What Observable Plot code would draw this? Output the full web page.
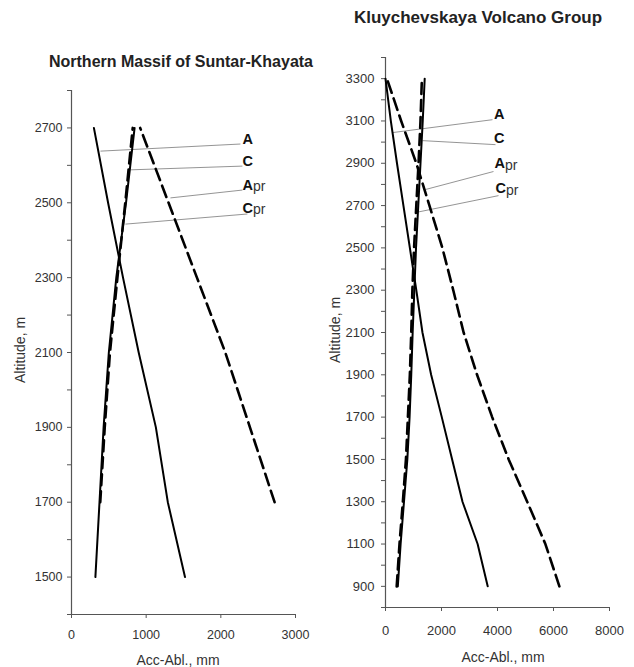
<!DOCTYPE html>
<html>
<head>
<meta charset="utf-8">
<script src="https://cdn.jsdelivr.net/npm/d3@7"></script>
<script src="https://cdn.jsdelivr.net/npm/@observablehq/plot@0.6"></script>
<style>
  html, body { margin: 0; padding: 0; background: white; }
  #root { position: relative; width: 634px; height: 667px; font-family: "Liberation Sans", Arial, sans-serif; overflow: hidden; }
  .panel { position: absolute; top: 0; }
  .lbl { position: absolute; white-space: nowrap; color: #333; }
  .title { font-weight: bold; color: #222; }
</style>
</head>
<body>
<div id="root"></div>
<script>
// ---------- Northern Massif of Suntar-Khayata ----------
const leftAlt    = [1500, 1700, 1900, 2100, 2300, 2500, 2700];
const leftA      = [1520, 1290, 1130, 900, 690, 490, 300];
const leftC      = [320, 375, 430, 500, 600, 730, 845];
const leftPrAlt  = [1700, 1900, 2100, 2300, 2500, 2700];
const leftCpr    = [385, 445, 515, 615, 720, 820];
const leftApr    = [2720, 2390, 2060, 1680, 1300, 920];
const leftYTicks  = [1400, 1500, 1600, 1700, 1800, 1900, 2000, 2100, 2200, 2300, 2400, 2500, 2600, 2700, 2800];
const leftYLabels = [1500, 1700, 1900, 2100, 2300, 2500, 2700];
const leftXTicks  = [0, 1000, 2000, 3000];
// annotation leaders (data units)
const leftNames   = ["A", "C", "A", "C"];
const leftSubs    = ["", "", "pr", "pr"];
const leftAnchorX = [388, 790, 1325, 723];
const leftAnchorY = [2638, 2588, 2513, 2443];
const leftEndX    = [2262, 2289, 2289, 2356];
const leftEndY    = [2657, 2598, 2534, 2470];
const leftTextX   = [2262, 2262, 2262, 2262];
const leftTextY   = [2657, 2598, 2534, 2473];

// ---------- Kluychevskaya Volcano Group ----------
const rightAlt   = [900, 1100, 1300, 1500, 1700, 1900, 2100, 2300, 2500, 2700, 2900, 3100, 3300];
const rightA     = [3650, 3290, 2750, 2380, 2010, 1630, 1320, 1100, 870, 640, 410, 190, 0];
const rightC     = [440, 540, 660, 780, 860, 920, 970, 1030, 1090, 1170, 1250, 1330, 1400];
const rightCpr   = [400, 500, 620, 730, 800, 870, 920, 960, 1020, 1100, 1180, 1250, 1300];
const rightApr   = [6210, 5710, 5060, 4400, 3810, 3270, 2790, 2420, 2030, 1570, 1100, 560, 50];
const rightYTicks  = [800, 900, 1000, 1100, 1200, 1300, 1400, 1500, 1600, 1700, 1800, 1900, 2000, 2100, 2200, 2300, 2400, 2500, 2600, 2700, 2800, 2900, 3000, 3100, 3200, 3300, 3400];
const rightYLabels = [900, 1100, 1300, 1500, 1700, 1900, 2100, 2300, 2500, 2700, 2900, 3100, 3300];
const rightXTicks  = [0, 2000, 4000, 6000, 8000];
const rightNames   = ["A", "C", "A", "C"];
const rightSubs    = ["", "", "pr", "pr"];
const rightAnchorX = [250, 1321, 1429, 1071];
const rightAnchorY = [3045, 3007, 2776, 2667];
const rightEndX    = [3821, 3929, 3857, 4036];
const rightEndY    = [3106, 2988, 2861, 2747];
const rightTextX   = [3800, 3800, 3820, 3860];
const rightTextY   = [3106, 2995, 2875, 2757];

const FONT = "'Liberation Sans', Arial, sans-serif";
const fmt = d => String(d);

function series(xs, ys) { return xs.map((x, i) => ({x, y: ys[i]})); }
function annos(names, subs, ax, ay, ex, ey, tx, ty) {
  return names.map((n, i) => ({n, s: subs[i], ax: ax[i], ay: ay[i], ex: ex[i], ey: ey[i], tx: tx[i], ty: ty[i]}));
}

function panel(cfg) {
  const ann = cfg.ann;
  return Plot.plot({
    width: cfg.width, height: 667,
    marginLeft: cfg.ml, marginRight: cfg.mr, marginTop: cfg.mt, marginBottom: cfg.mb,
    x: {domain: cfg.xDomain, label: null},
    y: {domain: cfg.yDomain, label: null},
    style: {fontFamily: FONT, background: "transparent", overflow: "visible"},
    marks: [
      Plot.axisY(cfg.yTicks, {tickSize: 4, tickFormat: () => "", stroke: "#555", label: null}),
      Plot.axisY(cfg.yLabels, {tickSize: 0, tickPadding: cfg.yPad, tickFormat: fmt, fontSize: cfg.fs, fill: "#333", label: null}),
      Plot.axisX(cfg.xTicks, {tickSize: 4, tickPadding: cfg.xPad, tickFormat: fmt, fontSize: cfg.fs, fill: "#333", stroke: "#555", label: null}),
      Plot.ruleX([0], {stroke: "#555", strokeWidth: 1.2}),
      Plot.ruleY([cfg.yDomain[0]], {stroke: "#555", strokeWidth: 1.2}),
      Plot.link(ann, {x1: "ax", y1: "ay", x2: "ex", y2: "ey", stroke: "#888", strokeWidth: 0.9}),
      Plot.line(cfg.A, {x: "x", y: "y", stroke: "black", strokeWidth: 2}),
      Plot.line(cfg.C, {x: "x", y: "y", stroke: "black", strokeWidth: 2}),
      Plot.line(cfg.Cpr, {x: "x", y: "y", stroke: "black", strokeWidth: 2.6, strokeDasharray: "11,6"}),
      Plot.line(cfg.Apr, {x: "x", y: "y", stroke: "black", strokeWidth: 2.6, strokeDasharray: "12,6"}),
      Plot.text(ann, {x: "tx", y: "ty", text: "n", textAnchor: "start", lineAnchor: "middle", dx: 2, dy: -5, fontSize: 14.5, fontWeight: "bold", fill: "#111"}),
      Plot.text(ann, {x: "tx", y: "ty", text: "s", textAnchor: "start", lineAnchor: "middle", dx: 12.5, dy: -3.5, fontSize: 14, fill: "#333"})
    ]
  });
}

const root = document.getElementById("root");

const left = panel({
  width: 320, ml: 71, mr: 25, mt: 90, mb: 53,
  xDomain: [0, 3000], yDomain: [1400, 2800],
  yTicks: leftYTicks, yLabels: leftYLabels, xTicks: leftXTicks,
  yPad: 9, xPad: 12, fs: 12.5,
  A: series(leftA, leftAlt), C: series(leftC, leftAlt),
  Cpr: series(leftCpr, leftPrAlt), Apr: series(leftApr, leftPrAlt),
  ann: annos(leftNames, leftSubs, leftAnchorX, leftAnchorY, leftEndX, leftEndY, leftTextX, leftTextY)
});
const right = panel({
  width: 309, ml: 65, mr: 20, mt: 57, mb: 60,
  xDomain: [0, 8000], yDomain: [800, 3400],
  yTicks: rightYTicks, yLabels: rightYLabels, xTicks: rightXTicks,
  yPad: 11, xPad: 14, fs: 13,
  A: series(rightA, rightAlt), C: series(rightC, rightAlt),
  Cpr: series(rightCpr, rightAlt), Apr: series(rightApr, rightAlt),
  ann: annos(rightNames, rightSubs, rightAnchorX, rightAnchorY, rightEndX, rightEndY, rightTextX, rightTextY)
});

const lw = document.createElement("div"); lw.className = "panel"; lw.style.left = "0px"; lw.style.width = "320px"; lw.appendChild(left);
const rw = document.createElement("div"); rw.className = "panel"; rw.style.left = "320px"; rw.style.width = "309px"; rw.appendChild(right);
root.appendChild(lw); root.appendChild(rw);

function label(text, cx, cy, size, cls, rotate) {
  const d = document.createElement("div");
  d.className = "lbl " + (cls || "");
  d.textContent = text;
  d.style.fontSize = size + "px";
  d.style.left = cx + "px";
  d.style.top = cy + "px";
  d.style.lineHeight = "1";
  d.style.transform = "translate(-50%, -50%)" + (rotate ? " rotate(-90deg)" : "");
  root.appendChild(d);
}
label("Northern Massif of Suntar-Khayata", 181, 62, 16, "title");
label("Kluychevskaya Volcano Group", 478, 17, 17, "title");
label("Altitude, m", 20, 350, 14, "", true);
label("Altitude, m", 335, 330, 14, "", true);
label("Acc-Abl., mm", 178, 660, 14);
label("Acc-Abl., mm", 503, 657, 14);
</script>
</body>
</html>
